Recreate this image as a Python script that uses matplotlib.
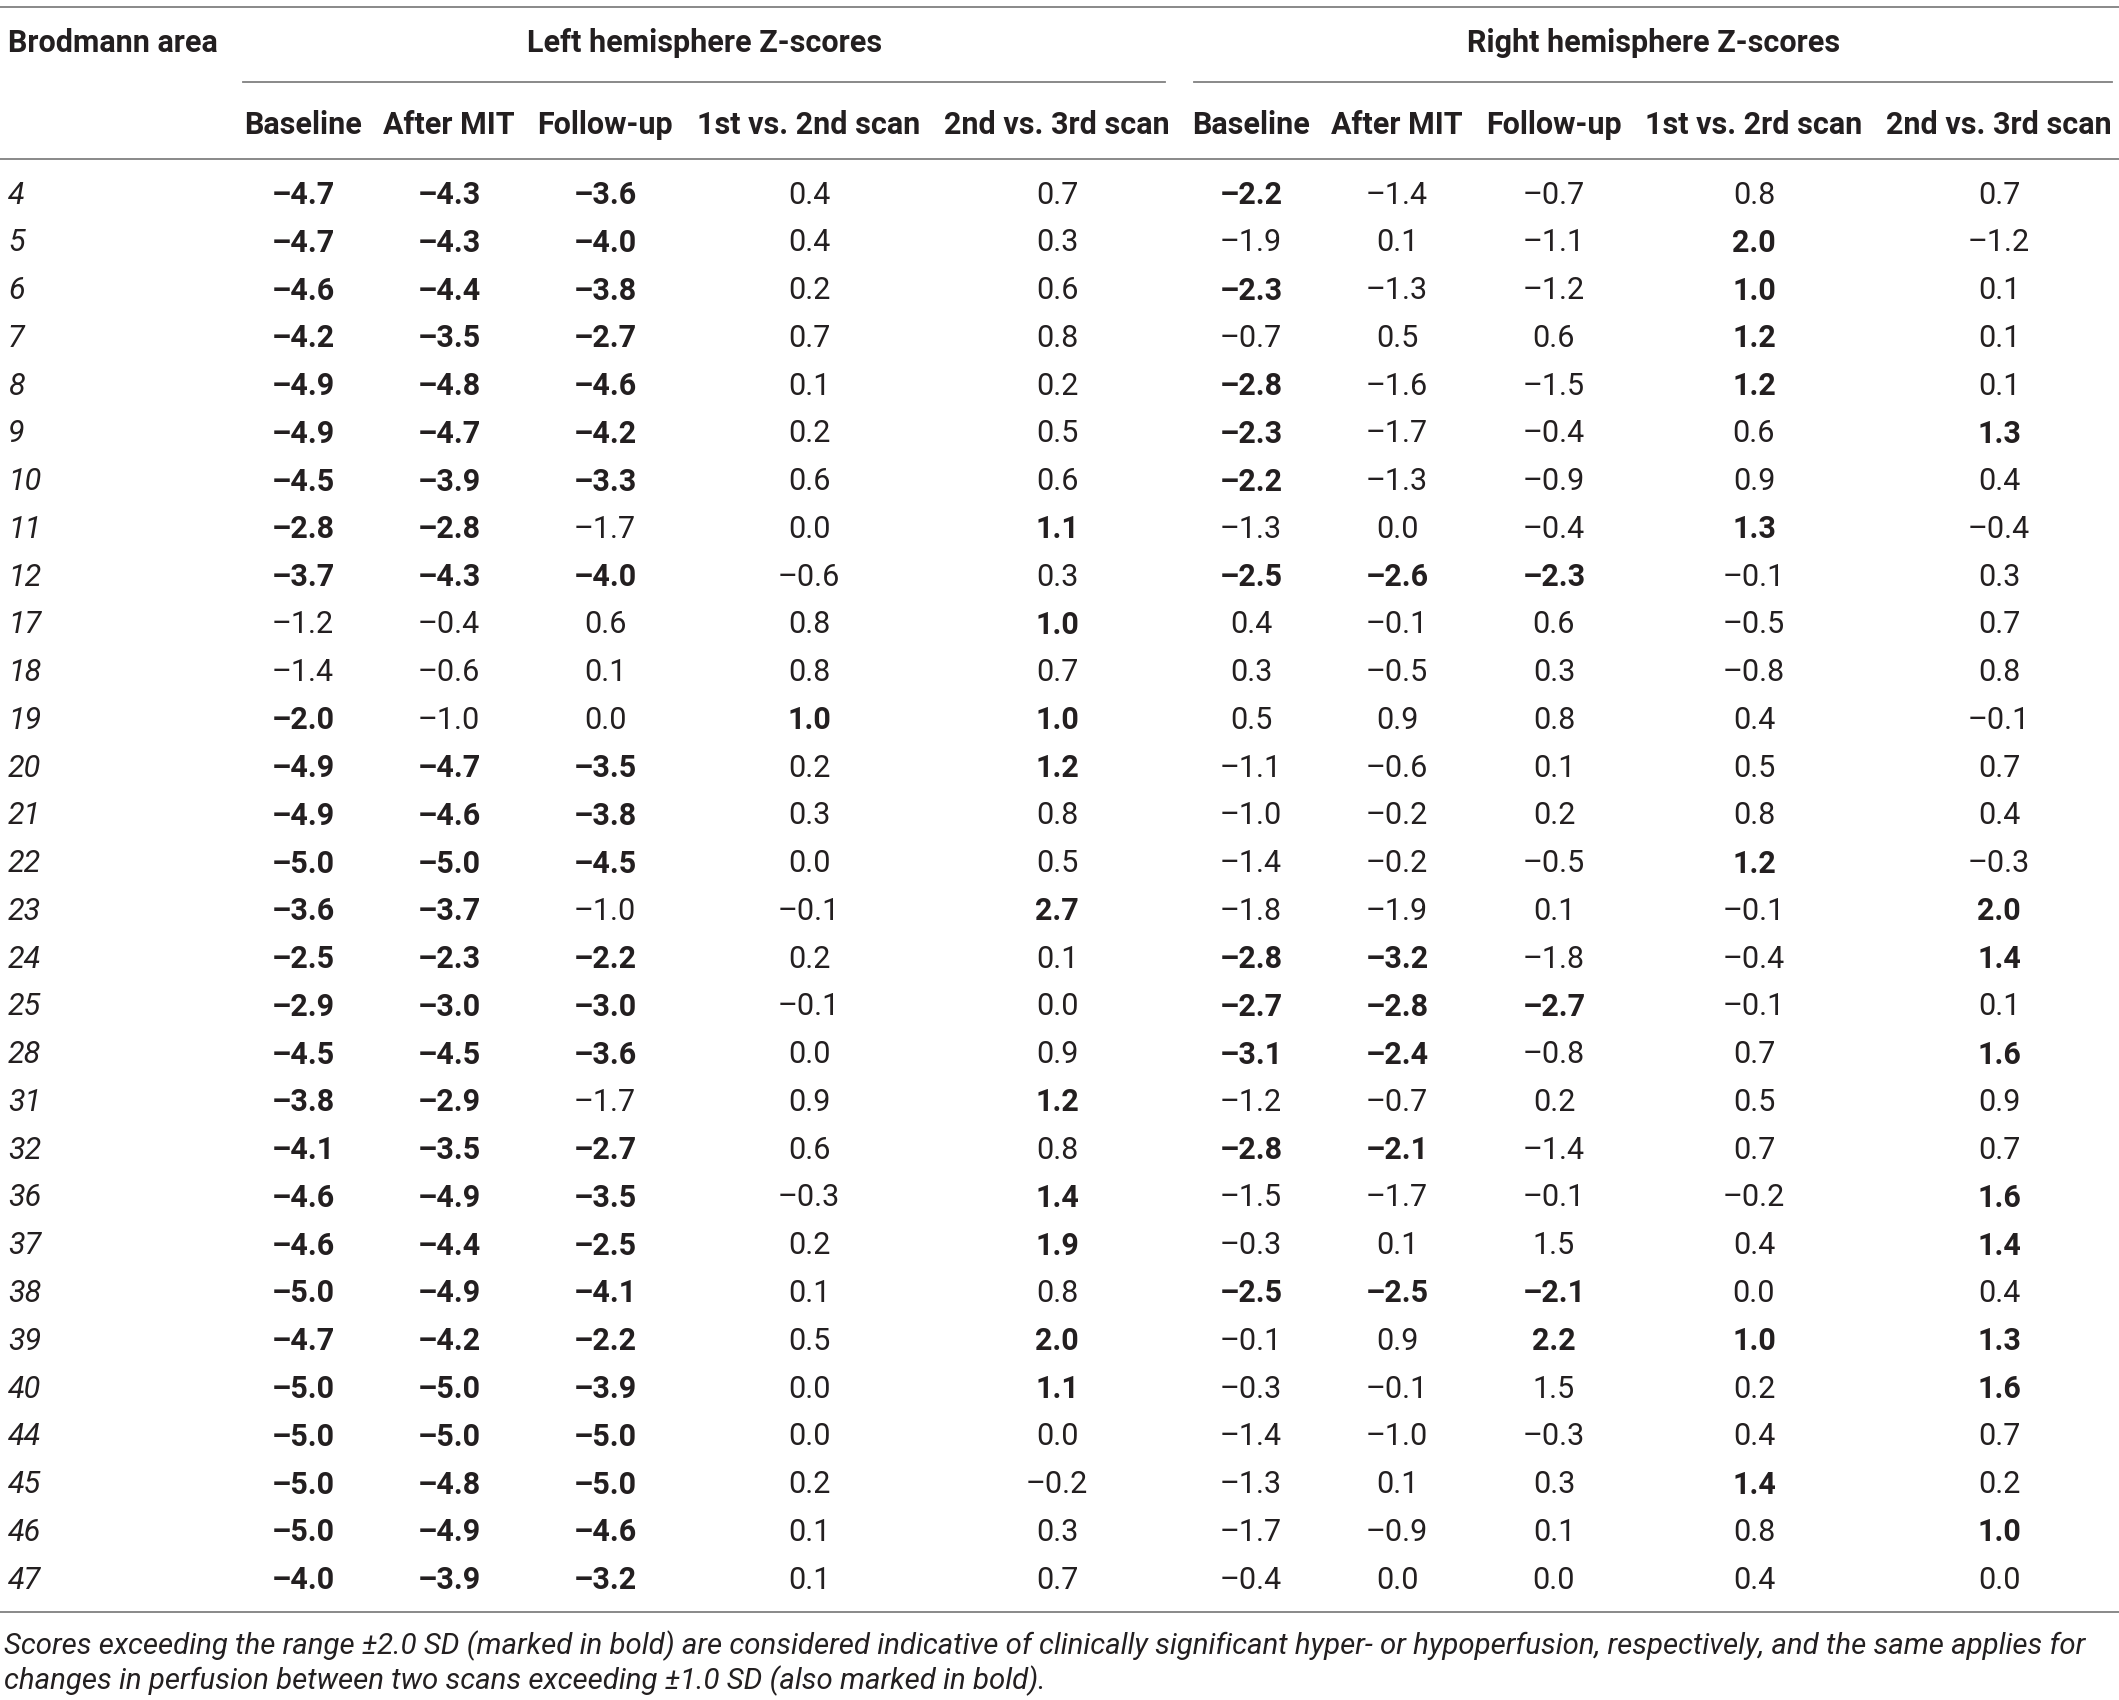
import matplotlib
matplotlib.use("Agg")
import matplotlib.pyplot as plt
from matplotlib import font_manager

# Table data
areas = ["4", "5", "6", "7", "8", "9", "10", "11", "12", "17", "18", "19", "20", "21", "22",
         "23", "24", "25", "28", "31", "32", "36", "37", "38", "39", "40", "44", "45", "46", "47"]

left_baseline = [-4.7, -4.7, -4.6, -4.2, -4.9, -4.9, -4.5, -2.8, -3.7, -1.2, -1.4, -2.0, -4.9, -4.9, -5.0,
                 -3.6, -2.5, -2.9, -4.5, -3.8, -4.1, -4.6, -4.6, -5.0, -4.7, -5.0, -5.0, -5.0, -5.0, -4.0]
left_after = [-4.3, -4.3, -4.4, -3.5, -4.8, -4.7, -3.9, -2.8, -4.3, -0.4, -0.6, -1.0, -4.7, -4.6, -5.0,
              -3.7, -2.3, -3.0, -4.5, -2.9, -3.5, -4.9, -4.4, -4.9, -4.2, -5.0, -5.0, -4.8, -4.9, -3.9]
left_follow = [-3.6, -4.0, -3.8, -2.7, -4.6, -4.2, -3.3, -1.7, -4.0, 0.6, 0.1, 0.0, -3.5, -3.8, -4.5,
               -1.0, -2.2, -3.0, -3.6, -1.7, -2.7, -3.5, -2.5, -4.1, -2.2, -3.9, -5.0, -5.0, -4.6, -3.2]
left_d12 = [0.4, 0.4, 0.2, 0.7, 0.1, 0.2, 0.6, 0.0, -0.6, 0.8, 0.8, 1.0, 0.2, 0.3, 0.0,
            -0.1, 0.2, -0.1, 0.0, 0.9, 0.6, -0.3, 0.2, 0.1, 0.5, 0.0, 0.0, 0.2, 0.1, 0.1]
left_d23 = [0.7, 0.3, 0.6, 0.8, 0.2, 0.5, 0.6, 1.1, 0.3, 1.0, 0.7, 1.0, 1.2, 0.8, 0.5,
            2.7, 0.1, 0.0, 0.9, 1.2, 0.8, 1.4, 1.9, 0.8, 2.0, 1.1, 0.0, -0.2, 0.3, 0.7]

right_baseline = [-2.2, -1.9, -2.3, -0.7, -2.8, -2.3, -2.2, -1.3, -2.5, 0.4, 0.3, 0.5, -1.1, -1.0, -1.4,
                  -1.8, -2.8, -2.7, -3.1, -1.2, -2.8, -1.5, -0.3, -2.5, -0.1, -0.3, -1.4, -1.3, -1.7, -0.4]
right_after = [-1.4, 0.1, -1.3, 0.5, -1.6, -1.7, -1.3, 0.0, -2.6, -0.1, -0.5, 0.9, -0.6, -0.2, -0.2,
               -1.9, -3.2, -2.8, -2.4, -0.7, -2.1, -1.7, 0.1, -2.5, 0.9, -0.1, -1.0, 0.1, -0.9, 0.0]
right_follow = [-0.7, -1.1, -1.2, 0.6, -1.5, -0.4, -0.9, -0.4, -2.3, 0.6, 0.3, 0.8, 0.1, 0.2, -0.5,
                0.1, -1.8, -2.7, -0.8, 0.2, -1.4, -0.1, 1.5, -2.1, 2.2, 1.5, -0.3, 0.3, 0.1, 0.0]
right_d12 = [0.8, 2.0, 1.0, 1.2, 1.2, 0.6, 0.9, 1.3, -0.1, -0.5, -0.8, 0.4, 0.5, 0.8, 1.2,
             -0.1, -0.4, -0.1, 0.7, 0.5, 0.7, -0.2, 0.4, 0.0, 1.0, 0.2, 0.4, 1.4, 0.8, 0.4]
right_d23 = [0.7, -1.2, 0.1, 0.1, 0.1, 1.3, 0.4, -0.4, 0.3, 0.7, 0.8, -0.1, 0.7, 0.4, -0.3,
             2.0, 1.4, 0.1, 1.6, 0.9, 0.7, 1.6, 1.4, 0.4, 1.3, 1.6, 0.7, 0.2, 1.0, 0.0]

sub_headers = ["Baseline", "After MIT", "Follow-up", "1st vs. 2nd scan", "2nd vs. 3rd scan",
               "Baseline", "After MIT", "Follow-up", "1st vs. 2rd scan", "2nd vs. 3rd scan"]
group_titles = ["Left hemisphere Z-scores", "Right hemisphere Z-scores"]
first_header = "Brodmann area"
footnote = ["Scores exceeding the range \u00b12.0 SD (marked in bold) are considered indicative of clinically "
            "significant hyper- or hypoperfusion, respectively, and the same applies for",
            "changes in perfusion between two scans exceeding \u00b11.0 SD (also marked in bold)."]

columns = [left_baseline, left_after, left_follow, left_d12, left_d23,
           right_baseline, right_after, right_follow, right_d12, right_d23]
is_change = [False, False, False, True, True, False, False, False, True, True]

# Layout (pixels)
W, H = 2119, 1700
col_x = [303, 449, 605, 809, 1057, 1251, 1397, 1554, 1754, 1999]
group_x = [705, 1654]
group_lines = [(243, 1165), (1194, 2112)]
row0, row_step = 195, 47.76

available = {f.name for f in font_manager.fontManager.ttflist}
fam = "Roboto" if "Roboto" in available else "Liberation Sans"

fig = plt.figure(figsize=(W / 100, H / 100), dpi=100)
ax = fig.add_axes([0, 0, 1, 1])
ax.set_xlim(0, W)
ax.set_ylim(H, 0)
ax.axis("off")

fs = 22
fs_note = 21.2
txt = "#231f20"
line_c = "#808080"

def fmt(v):
    s = f"{abs(v):.1f}"
    return ("\u2013" + s) if v < 0 else s

# header
ax.text(8, 43, first_header, fontsize=fs, fontweight="bold", family=fam, color=txt, va="center", ha="left")
for gx, title in zip(group_x, group_titles):
    ax.text(gx, 43, title, fontsize=fs, fontweight="bold", family=fam, color=txt, va="center", ha="center")
for cx, h in zip(col_x, sub_headers):
    ax.text(cx, 125, h, fontsize=fs, fontweight="bold", family=fam, color=txt, va="center", ha="center")

ax.plot([0, W], [7, 7], color=line_c, lw=1.3)
for x0, x1 in group_lines:
    ax.plot([x0, x1], [82, 82], color=line_c, lw=1.3)
ax.plot([0, W], [159, 159], color=line_c, lw=1.3)

# body
for i, area in enumerate(areas):
    y = row0 + i * row_step
    ax.text(8, y, area, fontsize=fs, style="italic", family=fam, color=txt,
            va="center", ha="left")
    for cx, col, chg in zip(col_x, columns, is_change):
        v = col[i]
        bold = (v >= 1.0) if chg else (abs(v) >= 2.0)
        ax.text(cx, y, fmt(v), fontsize=fs, fontweight="bold" if bold else "normal",
                family=fam, color=txt, va="center", ha="center")

ax.plot([0, W], [1612, 1612], color=line_c, lw=1.3)
for k, line in enumerate(footnote):
    ax.text(4, 1646 + k * 35, line, fontsize=fs_note, style="italic", family=fam,
            color=txt, va="center", ha="left")

fig.savefig("out.png", dpi=100)
